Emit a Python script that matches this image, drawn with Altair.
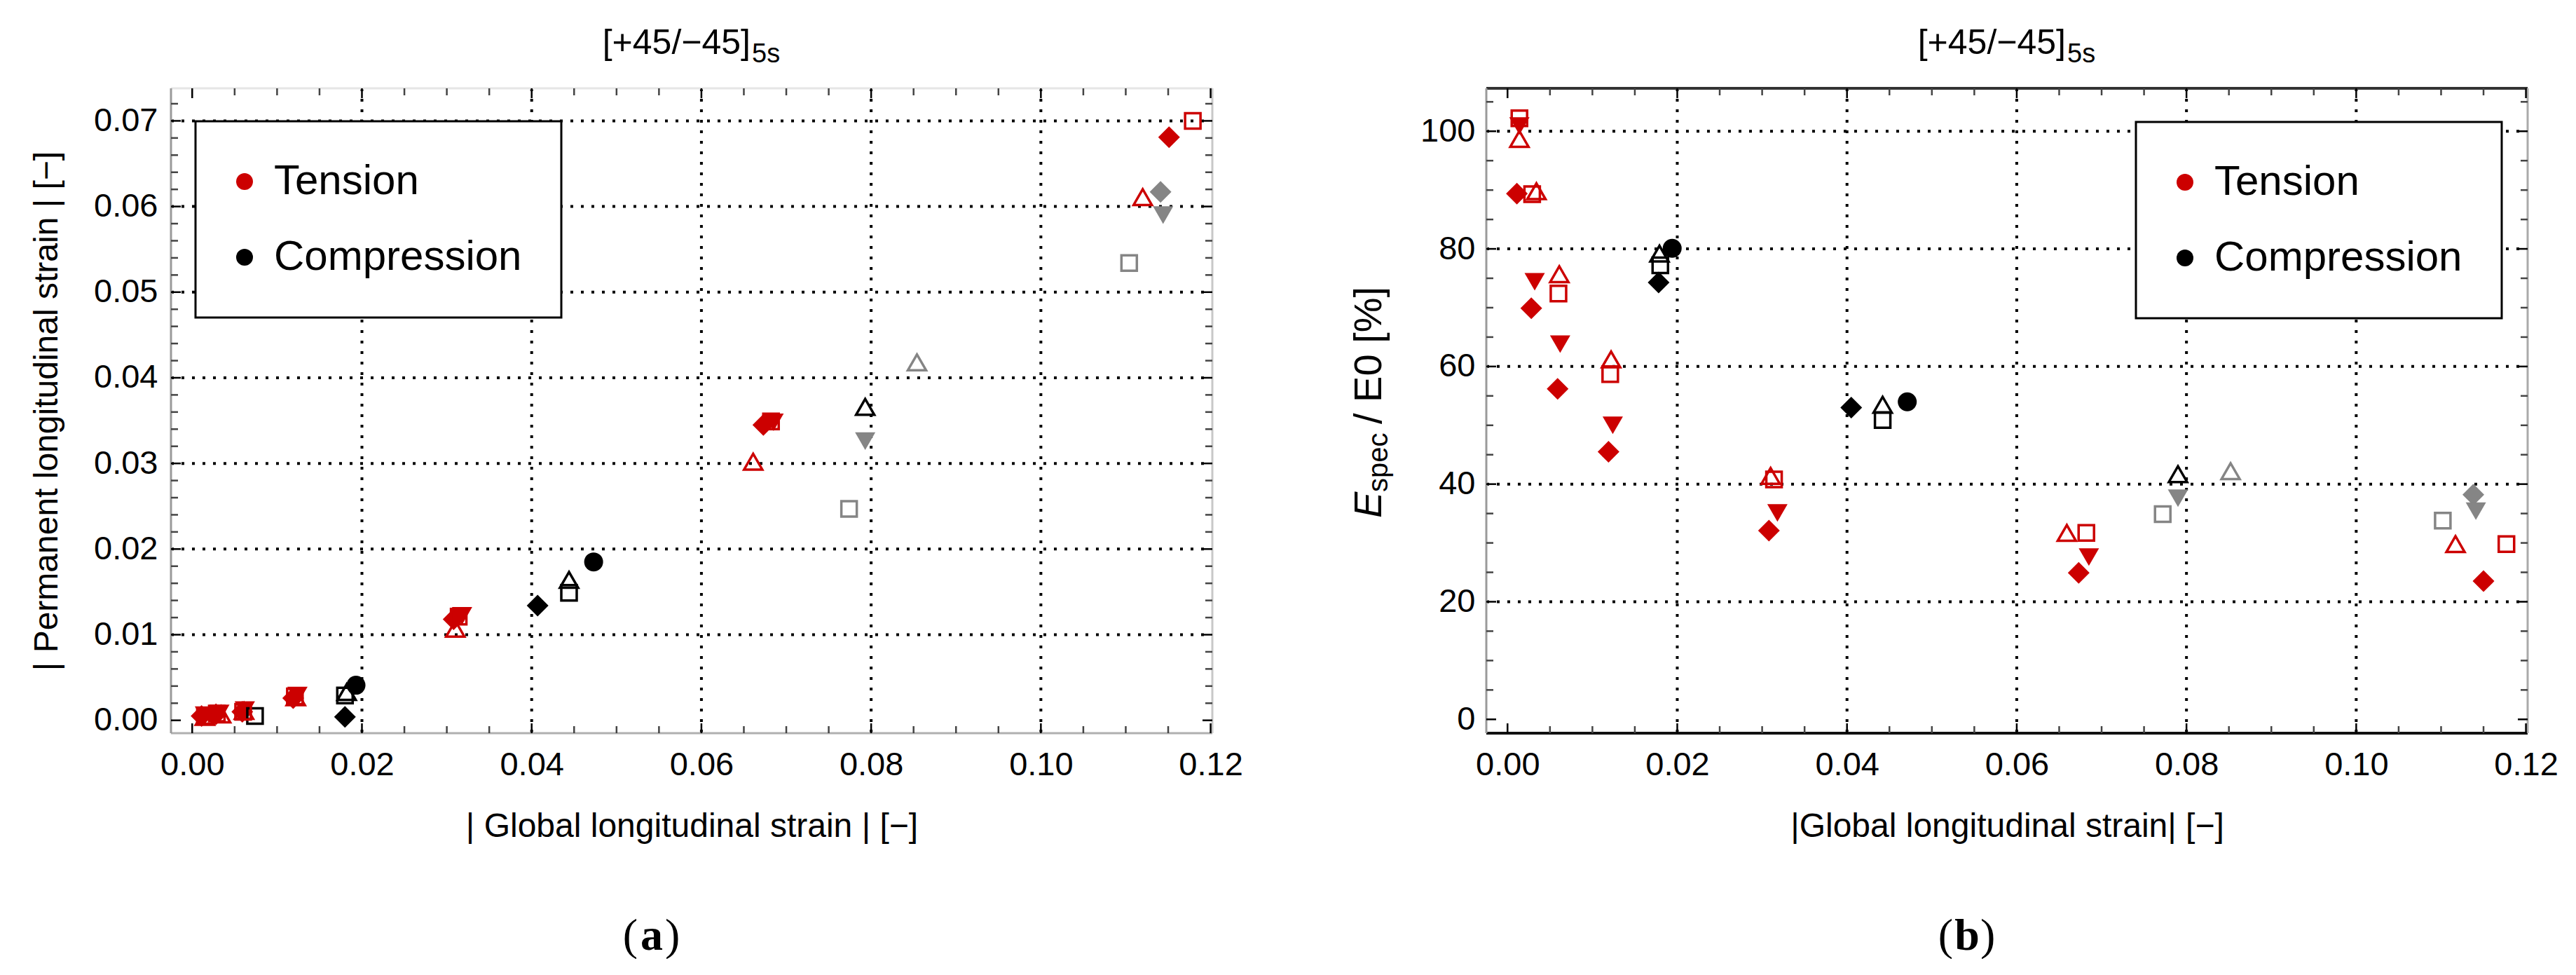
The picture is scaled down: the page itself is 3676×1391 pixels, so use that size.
import altair as alt
import pandas as pd

RED, BLACK, GREY = "#cc0000", "#000000", "#858585"
FONT, SERIF = "Liberation Sans", "Liberation Serif"

# ---------------- panel (a): |permanent longitudinal strain| ----------------
a_ten_diamond_x = [0.0011, 0.0028, 0.0059, 0.0119, 0.0308, 0.0673, 0.1151]
a_ten_diamond_y = [0.0005, 0.0007, 0.0010, 0.0026, 0.0118, 0.0345, 0.0681]
a_ten_tridown_x = [0.0015, 0.0032, 0.0062, 0.0124, 0.0318, 0.0685]
a_ten_tridown_y = [0.0006, 0.0008, 0.0012, 0.0029, 0.0122, 0.0348]
a_ten_triup_x = [0.0015, 0.0034, 0.0061, 0.0122, 0.0310, 0.0661, 0.1120]
a_ten_triup_y = [0.0004, 0.0007, 0.0011, 0.0027, 0.0107, 0.0302, 0.0611]
a_ten_square_x = [0.0015, 0.0029, 0.0060, 0.0121, 0.0314, 0.0682, 0.1179]
a_ten_square_y = [0.0005, 0.0008, 0.0010, 0.0028, 0.0121, 0.0349, 0.0700]
a_com_circle_x = [0.0193, 0.0473]
a_com_circle_y = [0.0041, 0.0185]
a_com_triup_x = [0.0182, 0.0444, 0.0793]
a_com_triup_y = [0.0033, 0.0164, 0.0366]
a_com_square_x = [0.0074, 0.0180, 0.0444]
a_com_square_y = [0.0005, 0.0029, 0.0149]
a_com_diamond_x = [0.0180, 0.0407]
a_com_diamond_y = [0.0004, 0.0134]
a_gry_square_x = [0.0774, 0.1104]
a_gry_square_y = [0.0247, 0.0534]
a_gry_tridown_x = [0.0793, 0.1144]
a_gry_tridown_y = [0.0326, 0.0590]
a_gry_triup_x = [0.0854]
a_gry_triup_y = [0.0418]
a_gry_diamond_x = [0.1141]
a_gry_diamond_y = [0.0617]

# ---------------- panel (b): E_spec / E0 [%] ----------------
b_ten_diamond_x = [0.0011, 0.0028, 0.0059, 0.0119, 0.0308, 0.0673, 0.1150]
b_ten_diamond_y = [89.4, 69.9, 56.2, 45.5, 32.1, 24.9, 23.5]
b_ten_tridown_x = [0.0014, 0.0032, 0.0062, 0.0124, 0.0318, 0.0685]
b_ten_tridown_y = [100.9, 74.4, 63.8, 50.0, 35.1, 27.6]
b_ten_triup_x = [0.0014, 0.0034, 0.0061, 0.0122, 0.0310, 0.0659, 0.1117]
b_ten_triup_y = [98.7, 89.8, 75.7, 61.2, 41.4, 31.7, 29.8]
b_ten_square_x = [0.0014, 0.0029, 0.0060, 0.0121, 0.0314, 0.0682, 0.1177]
b_ten_square_y = [102.2, 89.3, 72.4, 58.7, 40.8, 31.7, 29.8]
b_com_circle_x = [0.0194, 0.0471]
b_com_circle_y = [80.1, 54.0]
b_com_triup_x = [0.0179, 0.0442, 0.0790]
b_com_triup_y = [79.2, 53.5, 41.7]
b_com_square_x = [0.0180, 0.0442]
b_com_square_y = [77.2, 50.9]
b_com_diamond_x = [0.0178, 0.0405]
b_com_diamond_y = [74.3, 53.0]
b_gry_square_x = [0.0772, 0.1102]
b_gry_square_y = [34.9, 33.8]
b_gry_tridown_x = [0.0790, 0.1141]
b_gry_tridown_y = [37.6, 35.4]
b_gry_triup_x = [0.0852]
b_gry_triup_y = [42.2]
b_gry_diamond_x = [0.1138]
b_gry_diamond_y = [38.2]

# ---------------- axes ----------------
x_ticks = [0.00, 0.02, 0.04, 0.06, 0.08, 0.10, 0.12]
x_grid = [0.02, 0.04, 0.06, 0.08, 0.10]
x_minor = [round(i * 0.005, 4) for i in range(25) if i % 4 != 0]
a_y_ticks = [0.00, 0.01, 0.02, 0.03, 0.04, 0.05, 0.06, 0.07]
a_y_grid = [0.01, 0.02, 0.03, 0.04, 0.05, 0.06, 0.07]
a_y_minor = [round(i * 0.002, 4) for i in range(37) if i % 5 != 0]
b_y_ticks = [0, 20, 40, 60, 80, 100]
b_y_grid = [20, 40, 60, 80, 100]
b_y_minor = [i * 5 for i in range(22) if i % 4 != 0]

LOADS = ["Tension", "Compression", "Other"]
COLOR_SCALE = alt.Scale(domain=LOADS, range=[RED, BLACK, GREY])

W, H = 1486, 920
X_DOMAIN = [-0.0025, 0.1202]
ONE = pd.DataFrame({"k": [0]})


def rows(*groups):
    out = []
    for load, xs, ys in groups:
        for x, y in zip(xs, ys):
            out.append({"x": x, "y": y, "load": load})
    return pd.DataFrame(out)


def x_axis(title):
    return alt.Axis(values=x_ticks, format=".2f", ticks=False, tickSize=0, domain=False, grid=False,
                    labelFlush=False, labelFont=FONT, labelFontSize=47, labelColor=BLACK, labelPadding=22,
                    title=title, titleFont=FONT, titleFontSize=48, titleFontWeight="normal",
                    titleColor=BLACK, titleBaseline="alphabetic", titleY=147, titleX=W / 2,
                    titleAlign="center")


def text(t, x, y, size, **kw):
    return alt.Chart(ONE).mark_text(text=t, font=kw.pop("font", FONT), fontSize=size, color=BLACK,
                                    baseline="alphabetic", **kw).encode(x=alt.value(x), y=alt.value(y))


def edge(x1, x2, y1, y2, col, w):
    return alt.Chart(ONE).mark_rule(color=col, strokeWidth=w).encode(
        x=alt.value(x1), x2=alt.value(x2), y=alt.value(y1), y2=alt.value(y2))


def panel(series, ydom, yticks, ygrid, yminor, yfmt, ylabpad, ytitle, legxy, frame, caption, extra):
    xs = alt.Scale(domain=X_DOMAIN, nice=False, zero=False)
    ys = alt.Scale(domain=ydom, nice=False, zero=False)
    xax = x_axis(series["xtitle"])
    yax = alt.Axis(values=yticks, format=yfmt, ticks=False, tickSize=0, domain=False, grid=False,
                   labelFlush=False, labelFont=FONT, labelFontSize=47, labelColor=BLACK,
                   labelPadding=ylabpad, title=ytitle, titleFont=FONT, titleFontSize=48,
                   titleFontWeight="normal", titleColor=BLACK, titleAngle=270,
                   titleBaseline="alphabetic", titleX=-163, titleY=H / 2, titleAlign="center")
    X = lambda f: alt.X(f, scale=xs, axis=xax)
    Y = lambda f: alt.Y(f, scale=ys, axis=yax)
    layers = []
    # dotted grid (carries the axes)
    dot = dict(color=BLACK, strokeWidth=4, strokeDash=[4, 11])
    layers.append(alt.Chart(pd.DataFrame({"v": x_grid})).mark_rule(**dot).encode(
        x=X("v:Q"), y=alt.value(0), y2=alt.value(H)))
    layers.append(alt.Chart(pd.DataFrame({"v": ygrid})).mark_rule(**dot).encode(
        y=Y("v:Q"), x=alt.value(0), x2=alt.value(W)))
    # frame
    (ct, wt), (cb, wb), (cl, wl), (cr, wr) = frame
    layers += [edge(0, W, 0, 0, ct, wt), edge(0, W, H, H, cb, wb),
               edge(0, 0, 0, H, cl, wl), edge(W, W, 0, H, cr, wr)]
    # inward ticks on all four sides
    for vals, L, col in [(x_ticks, 14, BLACK), (x_minor, 10, "#444444")]:
        base = alt.Chart(pd.DataFrame({"v": vals})).mark_rule(color=col, strokeWidth=2.5)
        layers.append(base.encode(x=X("v:Q"), y=alt.value(H), y2=alt.value(H - L)))
        layers.append(base.encode(x=X("v:Q"), y=alt.value(0), y2=alt.value(L)))
    for vals, L, col in [(yticks, 14, BLACK), (yminor, 10, "#444444")]:
        base = alt.Chart(pd.DataFrame({"v": vals})).mark_rule(color=col, strokeWidth=2.5)
        layers.append(base.encode(y=Y("v:Q"), x=alt.value(0), x2=alt.value(L)))
        layers.append(base.encode(y=Y("v:Q"), x=alt.value(W), x2=alt.value(W - L)))
    # points
    legend = alt.Legend(values=["Tension", "Compression"], orient="none", legendX=legxy[0], legendY=legxy[1],
                        title=None, symbolType="circle", symbolSize=576, symbolStrokeWidth=0,
                        symbolOffset=-16, labelFont=FONT, labelFontSize=60, labelColor=BLACK,
                        labelOffset=12, labelLimit=2000, padding=56, rowPadding=48,
                        strokeColor=BLACK, fillColor="white")
    specs = [("diamond", 961, True), ("triangle-down", 841, True), ("circle", 729, True),
             ("triangle-up", 676, False), ("square", 484, False)]
    first = True
    for shape, size, filled in specs:
        df = series[shape]
        mk = alt.Chart(df).mark_point(shape=shape, size=size, filled=filled, opacity=1,
                                      strokeWidth=0 if filled else 3.5)
        layers.append(mk.encode(
            x=X("x:Q"), y=Y("y:Q"),
            color=alt.Color("load:N", scale=COLOR_SCALE, legend=legend if first else None)))
        first = False
    # title [+45/-45]_5s
    layers.append(text("[+45/\u221245]", W / 2 + 84, -49, 50, align="right"))
    layers.append(text("5s", W / 2 + 86, -37, 38, align="left"))
    # caption
    cx = 686
    layers.append(text("(", cx - 20, 1229, 64, align="right", font=SERIF))
    layers.append(text(caption, cx, 1229, 64, align="center", font=SERIF, fontWeight="bold"))
    layers.append(text(")", cx + 19, 1229, 64, align="left", font=SERIF))
    layers += extra
    return alt.layer(*layers).properties(width=W, height=H)


a_series = {
    "diamond": rows(("Other", a_gry_diamond_x, a_gry_diamond_y), ("Compression", a_com_diamond_x, a_com_diamond_y),
                    ("Tension", a_ten_diamond_x, a_ten_diamond_y)),
    "triangle-down": rows(("Other", a_gry_tridown_x, a_gry_tridown_y), ("Tension", a_ten_tridown_x, a_ten_tridown_y)),
    "circle": rows(("Compression", a_com_circle_x, a_com_circle_y)),
    "triangle-up": rows(("Other", a_gry_triup_x, a_gry_triup_y), ("Compression", a_com_triup_x, a_com_triup_y),
                        ("Tension", a_ten_triup_x, a_ten_triup_y)),
    "square": rows(("Other", a_gry_square_x, a_gry_square_y), ("Compression", a_com_square_x, a_com_square_y),
                   ("Tension", a_ten_square_x, a_ten_square_y)),
    "xtitle": "| Global longitudinal strain | [\u2212]",
}
b_series = {
    "diamond": rows(("Other", b_gry_diamond_x, b_gry_diamond_y), ("Compression", b_com_diamond_x, b_com_diamond_y),
                    ("Tension", b_ten_diamond_x, b_ten_diamond_y)),
    "triangle-down": rows(("Other", b_gry_tridown_x, b_gry_tridown_y), ("Tension", b_ten_tridown_x, b_ten_tridown_y)),
    "circle": rows(("Compression", b_com_circle_x, b_com_circle_y)),
    "triangle-up": rows(("Other", b_gry_triup_x, b_gry_triup_y), ("Compression", b_com_triup_x, b_com_triup_y),
                        ("Tension", b_ten_triup_x, b_ten_triup_y)),
    "square": rows(("Other", b_gry_square_x, b_gry_square_y), ("Compression", b_com_square_x, b_com_square_y),
                   ("Tension", b_ten_square_x, b_ten_square_y)),
    "xtitle": "|Global longitudinal strain| [\u2212]",
}

# composite y title of panel (b): E_spec / E0 [%]
Y0 = 613
b_ytitle = [
    text("E", -150, Y0, 56, align="left", angle=270, fontStyle="italic"),
    text("spec", -150, Y0, 40, align="left", angle=270, dx=37, dy=9),
    text("/ E0 [%]", -150, Y0, 56, align="left", angle=270, dx=134),
]

left = panel(a_series, [-0.0015, 0.0738], a_y_ticks, a_y_grid, a_y_minor, ".2f", 19,
             "| Permanent longitudinal strain |  [\u2212]", (35, 47),
             [("#e6e6e6", 3), ("#b0b0b0", 3), ("#9a9a9a", 3), ("#c8c8c8", 3)], "a", [])
right = panel(b_series, [-2.35, 107.3], b_y_ticks, b_y_grid, b_y_minor, "d", 16,
              None, (927, 48),
              [("#333333", 4), ("#111111", 4), ("#9a9a9a", 3), ("#aaaaaa", 3)], "b", b_ytitle)

chart = alt.hconcat(left, right, spacing=391, bounds="flush").resolve_scale(
    x="independent", y="independent", color="independent"
).resolve_legend(color="independent").properties(
    padding={"left": 34, "top": 29, "right": 0, "bottom": 0}, background="white"
).configure_view(stroke=None).configure_legend(strokeWidth=3)

chart.save("out.html", embed_options={"renderer": "svg", "actions": False})
